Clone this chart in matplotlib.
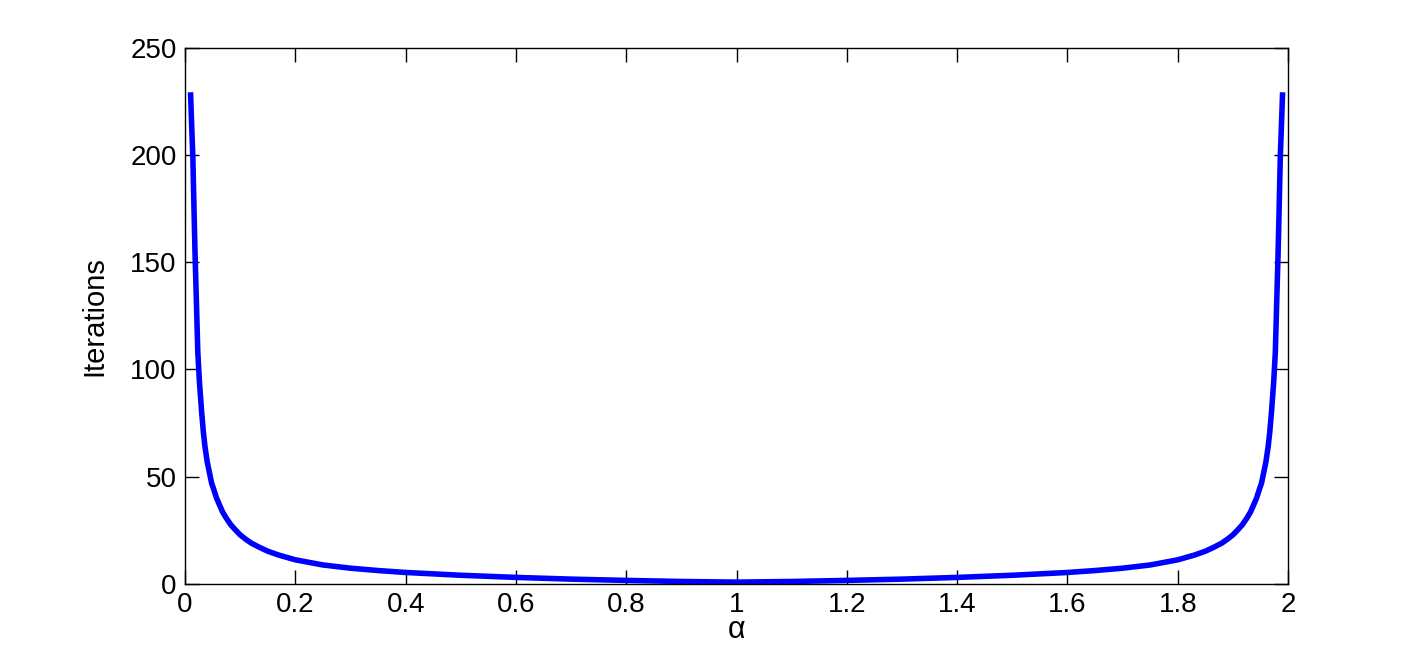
import matplotlib
matplotlib.use("Agg")
import matplotlib.pyplot as plt
from matplotlib.ticker import FuncFormatter

# values (left half, curve is mirrored about alpha = 1)
alpha_left = [0.01, 0.012, 0.014, 0.016, 0.018, 0.02, 0.023, 0.026, 0.03, 0.033,
              0.036, 0.04, 0.044, 0.048, 0.052, 0.057, 0.062, 0.068, 0.075, 0.083,
              0.09, 0.1, 0.11, 0.12, 0.135, 0.15, 0.17, 0.2, 0.25, 0.3,
              0.35, 0.4, 0.5, 0.6, 0.7, 0.8, 0.9, 1.0]
iters_left = [228, 213, 199, 176, 154, 136, 108, 94, 80, 71,
              64, 57, 52, 47, 44, 40, 37, 33.5, 30.5, 27.5,
              25.5, 22.8, 20.8, 19, 17, 15.2, 13.4, 11.2, 8.8, 7.3,
              6.2, 5.3, 4, 3, 2.2, 1.6, 1.1, 0.8]

alpha = alpha_left + [round(2 - a, 3) for a in reversed(alpha_left[:-1])]
iters = iters_left + list(reversed(iters_left[:-1]))

xticks = [0, 0.2, 0.4, 0.6, 0.8, 1, 1.2, 1.4, 1.6, 1.8, 2]
yticks = [0, 50, 100, 150, 200, 250]

plt.rcParams['font.family'] = ['Liberation Sans', 'DejaVu Sans']

fig = plt.figure(figsize=(14.24, 6.56), dpi=100)
ax = fig.add_axes([0.13, 0.11, 0.7745, 0.817])
ax.plot(alpha, iters, color='#0000ff', linewidth=4, solid_joinstyle='round')

ax.set_xlim(0, 2)
ax.set_ylim(0, 250)
ax.set_xticks(xticks)
ax.set_yticks(yticks)
ax.xaxis.set_major_formatter(FuncFormatter(lambda v, p: ('%g' % v)))
ax.tick_params(direction='in', length=10, width=1, top=True, right=True,
               labelsize=20, pad=6)
for s in ax.spines.values():
    s.set_linewidth(1)
ax.set_xlabel('α', fontsize=22, labelpad=-2)
ax.set_ylabel('Iterations', fontsize=21, labelpad=16)

fig.savefig('out.png', dpi=100)
